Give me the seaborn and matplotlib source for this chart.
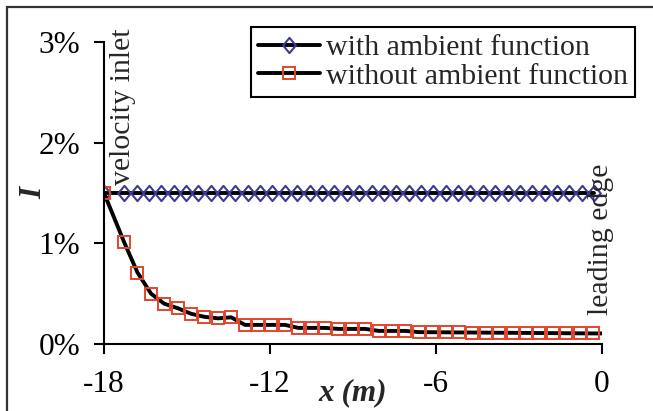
import matplotlib
matplotlib.use("Agg")
import matplotlib.pyplot as plt
from matplotlib.patches import Rectangle
from matplotlib.path import Path
from matplotlib.ticker import PercentFormatter
import seaborn as sns
import pandas as pd

# ---- data (x in m, I in %) ----
with_x = [-18, -17.27, -16.82, -16.38, -15.93, -15.48, -15.03, -14.59, -14.14, -13.69,
          -13.25, -12.80, -12.35, -11.91, -11.46, -11.01, -10.57, -10.12, -9.67, -9.22,
          -8.78, -8.33, -7.88, -7.44, -6.99, -6.54, -6.10, -5.65, -5.20, -4.76,
          -4.31, -3.86, -3.41, -2.97, -2.52, -2.07, -1.63, -1.18, -0.73, -0.28]
with_I = [1.5] * 40

without_x = [-18, -17.27, -16.79, -16.30, -15.82, -15.33, -14.85, -14.37, -13.88, -13.40,
             -12.91, -12.43, -11.95, -11.46, -10.98, -10.49, -10.01, -9.53, -9.04, -8.56,
             -8.07, -7.59, -7.11, -6.62, -6.14, -5.65, -5.17, -4.69, -4.20, -3.72,
             -3.23, -2.75, -2.27, -1.78, -1.30, -0.81, -0.33, 0.0]
without_I = [1.5, 1.01, 0.71, 0.50, 0.40, 0.355, 0.30, 0.27, 0.255, 0.265,
             0.19, 0.19, 0.19, 0.19, 0.16, 0.16, 0.16, 0.15, 0.15, 0.15,
             0.13, 0.13, 0.13, 0.118, 0.117, 0.116, 0.115, 0.114, 0.113, 0.112,
             0.111, 0.110, 0.109, 0.108, 0.107, 0.106, 0.105, 0.105]

x_ticks = [-18, -12, -6, 0]
y_ticks = [0, 1, 2, 3]
labels = ["with ambient function", "without ambient function"]

sns.set_style("ticks")
plt.rcParams["font.family"] = ["Liberation Serif", "DejaVu Serif"]
FS = 21.5
TFS = 22.5

diamond = Path([(0, 1), (0.83, 0), (0, -1), (-0.83, 0), (0, 1)],
               [Path.MOVETO, Path.LINETO, Path.LINETO, Path.LINETO, Path.CLOSEPOLY])

fig = plt.figure(figsize=(6.53, 4.11), dpi=100)
ax = fig.add_axes([104/653, 1-344/411, (602-104)/653, (344-42)/411])

df_w = pd.DataFrame({"x": with_x, "I": with_I})
df_wo = pd.DataFrame({"x": without_x, "I": without_I})

sns.lineplot(data=df_w, x="x", y="I", ax=ax, color="black", lw=2.8,
             marker=diamond, markersize=11, markerfacecolor="none",
             markeredgecolor="#3d3a98", markeredgewidth=1.5,
             label=labels[0], sort=False, estimator=None)
sns.lineplot(data=df_wo, x="x", y="I", ax=ax, color="black", lw=2.8,
             marker="s", markersize=9, markerfacecolor="none",
             markeredgecolor="#e2452d", markeredgewidth=1.4,
             markevery=list(range(len(without_x) - 1)),
             label=labels[1], sort=False, estimator=None)

ax.set_xlim(-18, 0)
ax.set_ylim(0, 3)
ax.set_xticks(x_ticks)
ax.set_xticklabels([str(v) for v in x_ticks])
ax.set_yticks(y_ticks)
ax.yaxis.set_major_formatter(PercentFormatter(xmax=100, decimals=0))
ax.tick_params(axis="both", direction="out", length=7, width=1.5,
               labelsize=TFS, color="black", labelcolor="black")
ax.tick_params(axis="x", pad=12)
ax.tick_params(axis="y", pad=10)
for s in ["top", "right"]:
    ax.spines[s].set_visible(False)
for s in ["left", "bottom"]:
    ax.spines[s].set_linewidth(1.5)
    ax.spines[s].set_color("black")

ax.set_xlabel("x (m)", fontsize=TFS, fontweight="bold", fontstyle="italic")
ax.xaxis.set_label_coords(0.5, -0.112)
ax.xaxis.label.set_va("top")
ax.set_ylabel("I", fontsize=TFS, fontweight="bold", fontstyle="italic")
ax.yaxis.set_label_coords(-0.112, 0.5)

ax.text(-17.3, 1.58, "velocity inlet", rotation=90, ha="center", va="bottom",
        fontsize=FS, clip_on=False)
ax.text(-0.05, 0.29, "leading edge", rotation=90, ha="center", va="bottom",
        fontsize=FS, clip_on=False)

leg = ax.legend(loc="upper right", bbox_to_anchor=(635/653, 1-27/411),
                bbox_transform=fig.transFigure, borderaxespad=0,
                fontsize=FS, frameon=True, fancybox=False, framealpha=1,
                edgecolor="black", handlelength=2.05, handletextpad=0.2,
                labelspacing=0.05, borderpad=0.25)
leg.get_frame().set_linewidth(1.5)

fig.patches.append(Rectangle((7/653, -0.1), 1.1, (1-7/411)+0.1,
                             transform=fig.transFigure, fill=False,
                             lw=1.6, ec="#333333"))

fig.savefig("out.png", dpi=100, facecolor="white")
